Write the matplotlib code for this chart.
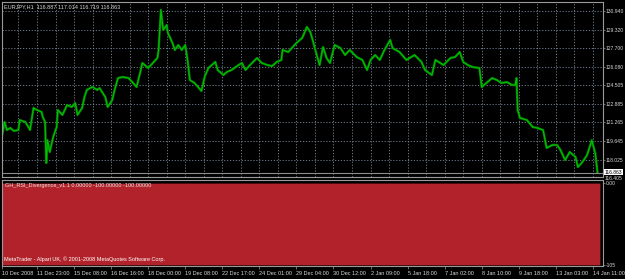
import matplotlib
matplotlib.use('Agg')
import matplotlib.pyplot as plt
import numpy as np

# EURJPY H1 closes, sampled off the chart (bar index, price)
bars = [0, 2, 4, 7, 10, 14, 15, 20, 24, 27, 30, 34, 35, 37, 38, 39, 41, 44, 47, 48,
        52, 56, 60, 63, 65, 69, 71, 73, 76, 78, 82, 84, 89, 91, 95, 97, 100, 104, 109, 113,
        116, 119, 121, 126, 130, 134, 135, 137, 139, 142, 143, 147, 149, 152, 155, 158, 160, 162, 166, 169,
        172, 175, 178, 184, 186, 191, 194, 198, 204, 207, 210, 214, 220, 224, 229, 233, 237, 241, 242, 247,
        250, 254, 259, 263, 266, 268, 272, 274, 277, 280, 283, 287, 292, 296, 300, 306, 311, 315, 318, 322,
        326, 330, 335, 337, 343, 349, 356, 362, 365, 371, 374, 381, 387, 391, 395, 398, 402, 406, 412, 414,
        418, 423, 427, 431, 436, 440, 443, 444, 445, 447, 453, 458, 462, 467, 470, 475, 479, 482, 486, 490,
        495, 497, 501, 505, 509, 512, 514]
closes = [120.16, 121.29, 120.59, 120.77, 120.51, 120.59, 121.46, 121.29, 120.59, 122.51,
          122.33, 122.16, 121.72, 121.29, 117.72, 119.72, 118.68, 119.98, 120.85, 122.33,
          121.90, 122.77, 122.59, 122.94, 121.90, 122.51, 123.46, 124.07, 124.24, 124.33,
          124.07, 124.24, 123.46, 122.59, 123.20, 124.07, 125.11, 125.20, 125.11, 124.68,
          124.33, 125.55, 126.42, 125.98, 126.42, 126.85, 127.55, 131.03, 129.29, 129.72,
          129.03, 128.16, 127.55, 127.98, 127.55, 127.98, 126.68, 124.94, 124.68, 124.33,
          123.98, 125.29, 125.98, 126.51, 125.81, 125.37, 125.64, 125.81, 126.24, 126.42,
          125.81, 126.24, 126.85, 126.42, 126.24, 126.15, 126.51, 126.68, 127.55, 127.37,
          127.72, 128.16, 128.59, 129.55, 129.11, 128.42, 126.94, 126.24, 127.81, 126.85,
          126.42, 127.98, 127.72, 127.11, 127.55, 126.94, 126.68, 125.81, 126.68, 127.11,
          126.68, 127.55, 128.42, 127.72, 127.37, 126.68, 127.11, 126.51, 125.81, 125.37,
          126.68, 126.24, 126.85, 126.94, 127.37, 126.51, 126.24, 126.07, 125.98, 124.33,
          124.68, 125.11, 124.94, 124.68, 124.75, 124.51, 124.51, 125.11, 122.33, 121.64,
          121.46, 120.85, 120.77, 120.59, 119.03, 119.29, 119.29, 118.85, 117.98, 118.68,
          118.24, 117.37, 117.81, 118.42, 119.70, 118.59, 116.863]

price_ticks = [130.940, 129.320, 127.700, 126.080, 124.505, 122.885, 121.265, 119.645, 118.025]
last_price = 116.863
low_label = 116.405

date_ticks = [0, 30, 62, 94, 126, 158, 190, 222, 254, 286, 318, 350, 382, 414, 446, 478, 510]
date_labels = ['10 Dec 2008', '11 Dec 23:00', '15 Dec 08:00', '16 Dec 16:00', '18 Dec 00:00',
               '19 Dec 08:00', '22 Dec 17:00', '24 Dec 01:00', '29 Dec 04:00', '30 Dec 12:00',
               '2 Jan 09:00', '5 Jan 18:00', '7 Jan 02:00', '8 Jan 10:00', '9 Jan 18:00',
               '13 Jan 03:00', '14 Jan 11:00']

ind_last_bar = 516
ind_floor = -105
ind_ticks = [0, -105]
ind_tick_labels = ['0.00', '-105']

plt.rcParams['font.family'] = ['Liberation Sans', 'DejaVu Sans']
fs = 4.0
fs_r = 3.6
txt = '#d8d8d8'
grid_c = '#7a8899'
border = '#9a9a9a'

fig = plt.figure(figsize=(6.25, 2.79), dpi=100, facecolor='black')
ax = fig.add_axes([2/625, 1-177/279, 601/625, 175/279])
ax2 = fig.add_axes([2/625, 1-266/279, 601/625, 86/279])

xmin, xmax = -0.2, 518.7

# main price panel
ax.set_facecolor('black')
ax.plot(bars, closes, color='#007f00', lw=1.7)
ax.plot(bars, closes, color='#00c400', lw=0.7)
ax.axhline(last_price, color='#8c8c8c', lw=0.8)
ax.set_xlim(xmin, xmax)
ax.set_ylim(116.506, 131.72)
ax.yaxis.tick_right()
ax.set_yticks(price_ticks)
ax.set_yticklabels(['%.3f' % v for v in price_ticks])
ax.set_xticks(date_ticks)
ax.set_xticks(np.arange(14, 519, 32), minor=True)
ax.tick_params(axis='x', which='both', length=0, labelbottom=False)
ax.tick_params(axis='y', colors=border, labelcolor=txt, labelsize=fs_r, length=1.5, width=0.5, pad=0.5)
ax.grid(True, which='both', color=grid_c, ls=(0, (1.5, 2)), lw=0.6)
for s in ax.spines.values():
    s.set_color(border)
    s.set_linewidth(0.8)

ax.text(0.004, 0.985, 'EURJPY,H1  116.887 117.014 116.719 116.863', transform=ax.transAxes,
        color=txt, fontsize=fs, va='top', ha='left')
ax.text(1.003, last_price + 0.05, '%.3f' % last_price, transform=ax.get_yaxis_transform(),
        color='black', fontsize=fs_r, va='center', ha='left',
        bbox=dict(boxstyle='square,pad=0.1', fc='white', ec='none'), zorder=5)
ax.text(1.003, low_label - 0.05, '%.3f' % low_label, transform=ax.get_yaxis_transform(),
        color=txt, fontsize=fs_r, va='center', ha='left', zorder=4)

# indicator panel
ax2.set_facecolor('black')
ib = np.arange(0, ind_last_bar + 1)
ax2.fill_between(ib, 0, ind_floor, color='#b2222a', lw=0)
ax2.set_xlim(xmin, xmax)
ax2.set_ylim(-106.5, 4)
ax2.yaxis.tick_right()
ax2.set_yticks(ind_ticks)
ax2.set_yticklabels(ind_tick_labels)
ax2.tick_params(axis='y', colors=border, labelcolor=txt, labelsize=fs_r, length=1.5, width=0.5, pad=0.5)
ax2.set_xticks(date_ticks)
ax2.set_xticklabels(date_labels, ha='left')
ax2.tick_params(axis='x', colors=border, labelcolor=txt, labelsize=fs, length=2, width=0.5, pad=1.5)
for s in ax2.spines.values():
    s.set_color(border)
    s.set_linewidth(0.8)

ax2.text(0.005, 0.965, 'GH_RSI_Divergence_v1.1 0.00000 -100.00000 -100.00000', transform=ax2.transAxes,
         color='#e8e8e8', fontsize=fs, va='top', ha='left')
ax2.text(0.004, 0.05, 'MetaTrader - Alpari UK, \u00a9 2001-2008 MetaQuotes Software Corp.',
         transform=ax2.transAxes, color='white', fontsize=fs, va='bottom', ha='left')

fig.savefig('out.png', dpi=100, facecolor='black')
